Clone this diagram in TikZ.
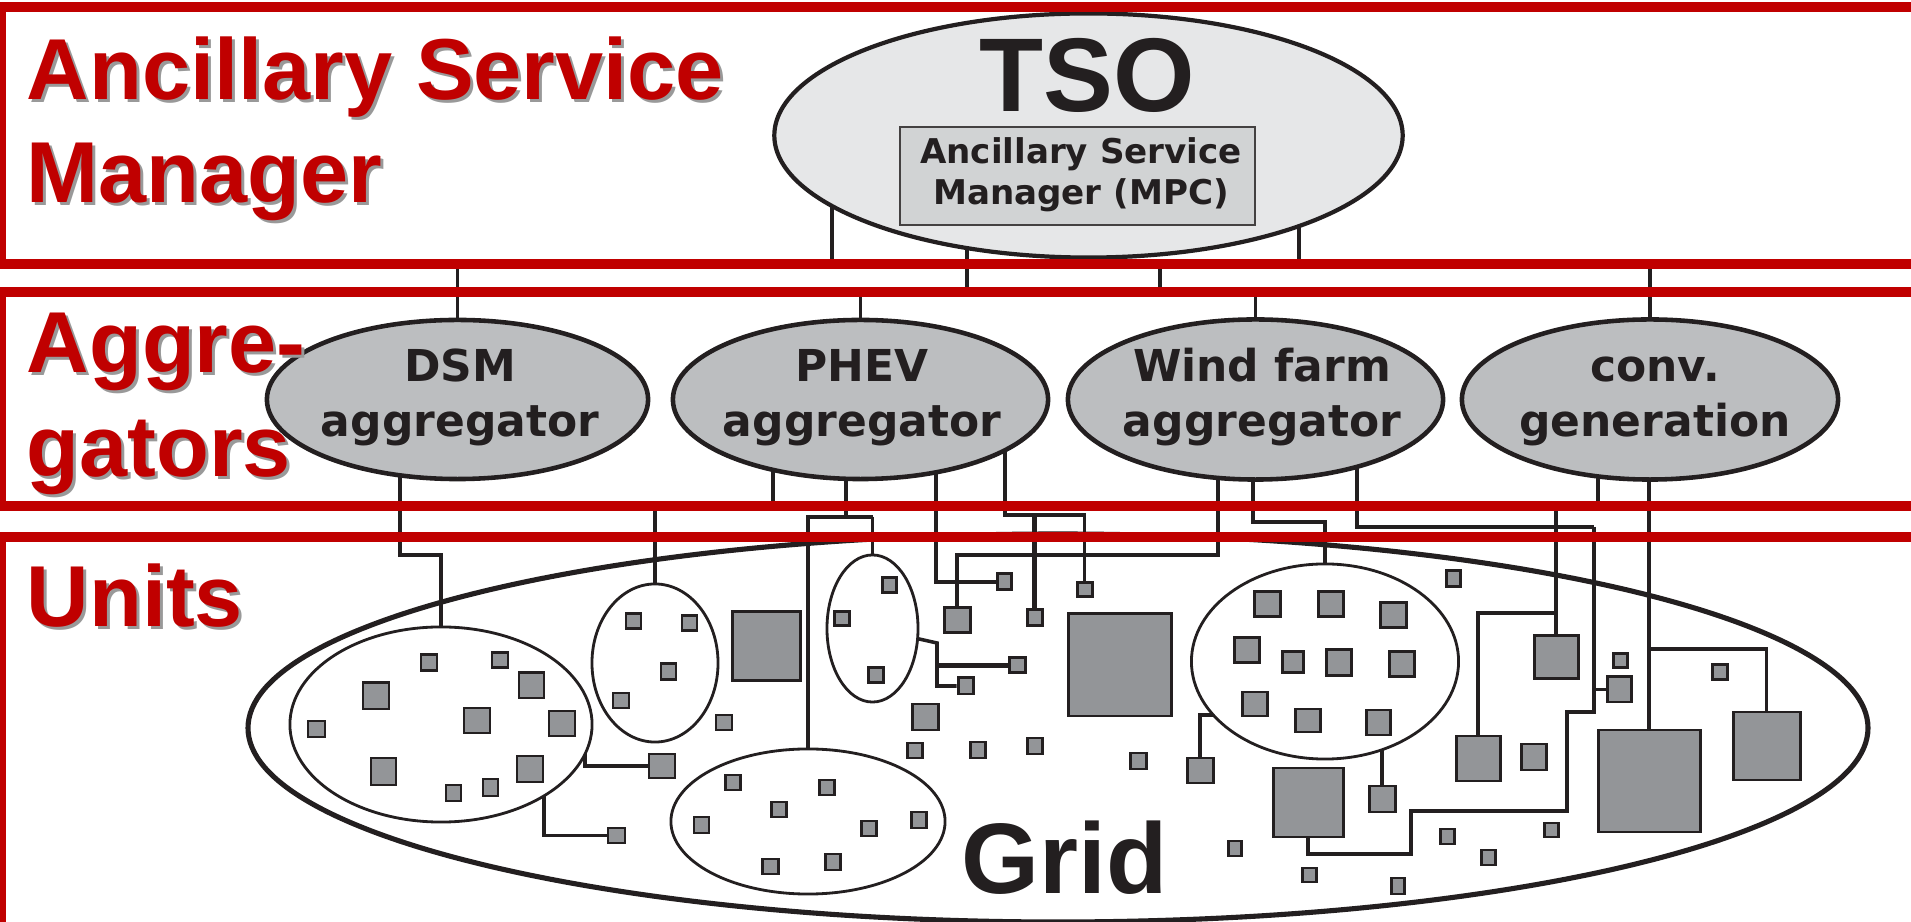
\documentclass[tikz,border=0pt]{standalone}
\usepackage{fontspec}
\setmainfont{Liberation Sans}
\newfontfamily\dvsans{DejaVu Sans}
\usetikzlibrary{shapes.geometric}
\definecolor{asred}{RGB}{192,0,0}
\definecolor{ink}{HTML}{231F20}
\definecolor{unitgray}{HTML}{939598}
\definecolor{agggray}{HTML}{BCBEC0}
\definecolor{tsogray}{HTML}{E6E7E8}
\definecolor{boxgray}{HTML}{D1D3D4}
\pgfdeclarelayer{wires}
\pgfdeclarelayer{front}
\pgfsetlayers{wires,main,front}
\newcommand\unitsq[5]{\node[unit, minimum width={0.01cm*(#4-#2-2)}, minimum height={0.01cm*(#5-#3-2)}] (#1) at ({(#2+#4)/2},{(#3+#5)/2}) {};}
\begin{document}
\begin{tikzpicture}[x=0.01cm,y=-0.01cm,
  wire/.style={draw=ink, line width=1pt},
  thickwire/.style={draw=ink, line width=1.35pt},
  unit/.style={rectangle, draw=ink, fill=unitgray, line width=0.85pt, inner sep=0pt},
  cluster/.style={ellipse, draw=ink, fill=white, line width=0.8pt, inner sep=0pt},
  agg/.style={ellipse, draw=ink, fill=agggray, line width=1.3pt, inner sep=0pt},
  aggtext/.style={font=\dvsans\bfseries\fontsize{12.5}{14}\selectfont, text=ink, anchor=base, inner sep=0pt},
  boxtext/.style={font=\dvsans\bfseries\fontsize{9.7}{11}\selectfont, text=ink, anchor=base, inner sep=0pt},
  band/.style={draw=asred, line width=2.85pt},
  head/.style={font=\bfseries\fontsize{24.6}{29}\selectfont, text=asred, anchor=base west, inner sep=0pt},
  headshadow/.style={head, text=black!40},
]
\useasboundingbox (0,0) rectangle (1911,922);
\coordinate (band1) at (0,264);
\coordinate (band2t) at (0,292);
\coordinate (band2) at (0,506);
\coordinate (band3) at (0,537);

% ---------- TSO
\node[ellipse, draw=ink, fill=tsogray, line width=1.2pt, minimum width=6.28cm, minimum height=2.44cm, inner sep=0pt] (tso) at (1088.5,135.5) {};
\node[font=\bfseries\fontsize{29.8}{32}\selectfont, text=ink, anchor=base, inner sep=0pt] (tsot) at (1087,112) {TSO};
\node[rectangle, draw=ink!85, fill=boxgray, line width=0.6pt, minimum width=3.55cm, minimum height=0.98cm, inner sep=0pt] (asm) at (1077.5,176) {};
\node[boxtext] (asmt1) at (1081,164) {Ancillary Service};
\node[boxtext] (asmt2) at (1081,205) {Manager (MPC)};

% ---------- aggregators
\node[agg, minimum width=3.81cm, minimum height=1.59cm] (dsm) at (457.5,399.5) {};
\node[agg, minimum width=3.75cm, minimum height=1.59cm] (phev) at (860.5,399.5) {};
\node[agg, minimum width=3.75cm, minimum height=1.60cm] (wind) at (1255.5,399.5) {};
\node[agg, minimum width=3.76cm, minimum height=1.60cm] (conv) at (1650,399.5) {};
\node[aggtext] (dsmt1) at (460,382) {DSM};
\node[aggtext] (dsmt2) at (460,437) {aggregator};
\node[aggtext] (phevt1) at (862,382) {PHEV};
\node[aggtext] (phevt2) at (862,437) {aggregator};
\node[aggtext] (windt1) at (1262,382) {Wind farm};
\node[aggtext] (windt2) at (1262,437) {aggregator};
\node[aggtext] (convt1) at (1655,382) {conv.};
\node[aggtext] (convt2) at (1655,437) {generation};

% ---------- unit clusters
\node[cluster, minimum width=3.02cm, minimum height=1.95cm] (dsmc) at (441,724.5) {};
\node[cluster, minimum width=1.26cm, minimum height=1.58cm] (phc1) at (655,663) {};
\node[cluster, minimum width=0.91cm, minimum height=1.47cm] (phc2) at (872.5,628.5) {};
\node[cluster, minimum width=2.74cm, minimum height=1.45cm] (botc) at (808,821.5) {};
\node[cluster, minimum width=2.67cm, minimum height=1.95cm] (windc) at (1325,661.5) {};

% DSM cluster
\unitsq{d1}{420}{654}{438}{672}
\unitsq{d2}{491}{652}{509}{669}
\unitsq{d3}{518}{672}{545}{699}
\unitsq{d4}{362}{682}{390}{710}
\unitsq{d5}{463}{707}{491}{734}
\unitsq{d6}{548}{710}{576}{737}
\unitsq{d7}{307}{720}{326}{738}
\unitsq{d8}{370}{757}{397}{786}
\unitsq{d9}{516}{755}{544}{783}
\unitsq{d10}{445}{784}{462}{802}
\unitsq{d11}{482}{778}{499}{797}
% PHEV cluster 1
\unitsq{pa}{625}{613}{642}{630}
\unitsq{pb}{681}{615}{698}{632}
\unitsq{pc}{660}{663}{677}{681}
\unitsq{pd}{612}{692}{630}{709}
% PHEV cluster 2
\unitsq{qa}{881}{577}{897}{594}
\unitsq{qb}{833}{611}{850}{627}
\unitsq{qc}{867}{667}{884}{684}
% bottom cluster
\unitsq{ba}{724}{774}{741}{791}
\unitsq{bb}{818}{779}{835}{796}
\unitsq{bc}{770}{801}{787}{818}
\unitsq{bd}{693}{816}{710}{834}
\unitsq{be}{860}{820}{877}{837}
\unitsq{bf}{910}{811}{927}{829}
\unitsq{bg}{761}{858}{779}{875}
\unitsq{bh}{824}{853}{841}{871}
% wind cluster
\unitsq{wa}{1253}{591}{1281}{618}
\unitsq{wb}{1317}{591}{1344}{618}
\unitsq{wc}{1379}{602}{1407}{629}
\unitsq{wd}{1233}{637}{1260}{664}
\unitsq{we}{1281}{651}{1304}{674}
\unitsq{wf}{1325}{649}{1352}{677}
\unitsq{wg}{1388}{651}{1415}{678}
\unitsq{wh}{1241}{691}{1268}{717}
\unitsq{wi}{1294}{708}{1321}{733}
\unitsq{wj}{1365}{709}{1391}{736}
% wired loose units
\unitsq{s3}{996}{573}{1012}{591}
\unitsq{s4}{1076}{582}{1093}{598}
\unitsq{s5}{1026}{609}{1043}{627}
\unitsq{m2}{943}{607}{971}{634}
\unitsq{s6}{1008}{657}{1026}{674}
\unitsq{s7}{957}{677}{974}{695}
\unitsq{m4}{1186}{757}{1214}{784}
\unitsq{m5}{1368}{785}{1396}{813}
\unitsq{big3}{1272}{767}{1344}{838}
\unitsq{l1}{1533}{635}{1579}{680}
\unitsq{l2}{1455}{735}{1501}{782}
\unitsq{m7}{1606}{676}{1632}{703}
\unitsq{big4}{1597}{729}{1701}{833}
\unitsq{big5}{1732}{711}{1801}{781}
\unitsq{m1}{648}{753}{676}{779}
\unitsq{s2}{607}{827}{626}{844}
% other loose units
\unitsq{big1}{731}{611}{801}{682}
\unitsq{s1}{715}{714}{733}{731}
\unitsq{m3}{911}{703}{939}{731}
\unitsq{s8}{906}{742}{923}{759}
\unitsq{s9}{969}{741}{986}{759}
\unitsq{s10}{1026}{737}{1043}{755}
\unitsq{s11}{1129}{752}{1147}{770}
\unitsq{big2}{1067}{613}{1172}{717}
\unitsq{s12}{1445}{570}{1461}{588}
\unitsq{m6}{1520}{743}{1547}{771}
\unitsq{s13}{1612}{653}{1628}{669}
\unitsq{s14}{1711}{664}{1728}{681}
\unitsq{s15}{1227}{840}{1242}{857}
\unitsq{s16}{1301}{867}{1317}{883}
\unitsq{s17}{1390}{877}{1405}{895}
\unitsq{s18}{1439}{828}{1455}{845}
\unitsq{s19}{1480}{849}{1496}{866}
\unitsq{s20}{1543}{822}{1559}{838}

\node[font=\bfseries\fontsize{28.5}{30}\selectfont, text=ink, anchor=base, inner sep=0pt] (gridlabel) at (1065,894) {Grid};

% ---------- connectors (behind all shapes)
\begin{pgfonlayer}{wires}
\draw[ink, line width=1.45pt] (1058,728) ellipse [x radius=810, y radius=194];
% TSO to aggregator layer
\draw[wire] (tso.center -| 832,0) -- (832,264);
\draw[wire] (tso.center -| 967,0) -- (967,292);
\draw[wire] (tso.center -| 1299,0) -- (1299,264);
\draw[wire] (dsm.north) -- (dsm.north |- band1);
\draw[wire] (1160,264) -- (1160,292);
\draw[wire] (conv.north) -- (conv.north |- band1);
\draw[wire] (phev.north) -- (phev.north |- band2t);
\draw[wire] (wind.north) -- (wind.north |- band2t);
% aggregators to units
\draw[wire] (dsm.center -| 400,0) -- (400,555) -| (dsmc.north);
\draw[wire] (phc1.north |- band2) -- (phc1.north);
\draw[wire] (phev.center -| 773,0) -- (773,506);
\draw[wire] (phev.center -| 846,0) -- (846,517);
\draw[thickwire] (botc.north) |- (872.5,517);
\draw[wire] (872.5,517) -- (phc2.north);
\draw[wire] (phev.center -| 936,0) |- (s3.west);
\draw[wire] (phev.center -| 1005,0) -- (1005,515) -| (s4.north);
\draw[thickwire] (s5.north |- 0,515) -- (s5.north);
\draw[wire] (phc2.center) -- (937,643) |- (s7.west);
\draw[thickwire] (937,665.5) -- (s6.west);
\draw[wire] (wind.center -| 1218,0) -- (1218,555) -| (m2.north);
\draw[wire] (wind.center -| 1253,0) -- (1253,522) -| (windc.north);
\draw[wire] (wind.center -| 1357,0) -- (1357,527) -- (1594,527);
\draw[thickwire] (1594,527) -- (1594,712) -- (1567,712) -- (1567,811) -- (1411,811) -- (1411,854) -- (1308,854) -- (big3.south);
\draw[wire] (1594,689.5) -- (m7.west);
\draw[wire] (conv.center -| 1598,0) -- (1598,506);
\draw[wire] (conv.center -| 1649,0) -- (big4.north);
\draw[wire] (1649,649) -| (big5.north);
\draw[thickwire] (l1.north |- band2) -- (l1.north);
\draw[thickwire] (1556,613) -| (l2.north);
\draw[wire] (windc.center -| 1225,0) -- (1225,715) -| (m4.north);
\draw[wire] (windc.center -| 1382,0) -- (m5.north);
\draw[wire] (dsmc.center -| 585,0) -- (585,766) -- (m1.west);
\draw[wire] (dsmc.center -| 544,0) |- (s2.west);
\end{pgfonlayer}

% ---------- red frames and headings
\begin{pgfonlayer}{front}
\draw[band] (0.5,7) rectangle (2000,264);
\draw[band] (0.5,292) rectangle (2000,506);
\draw[band] (0.5,537) rectangle (2000,1000);
\node[headshadow] (h1s) at (29,103) {Ancillary Service};
\node[headshadow] (h2s) at (29,206) {Manager};
\node[headshadow] (h3s) at (29,376) {Aggre-};
\node[headshadow] (h4s) at (29,480) {gators};
\node[headshadow] (h5s) at (29,630) {Units};
\node[head] (h1) at (26,100) {Ancillary Service};
\node[head] (h2) at (26,203) {Manager};
\node[head] (h3) at (26,373) {Aggre-};
\node[head] (h4) at (26,477) {gators};
\node[head] (h5) at (26,627) {Units};
\end{pgfonlayer}
\end{tikzpicture}
\end{document}
